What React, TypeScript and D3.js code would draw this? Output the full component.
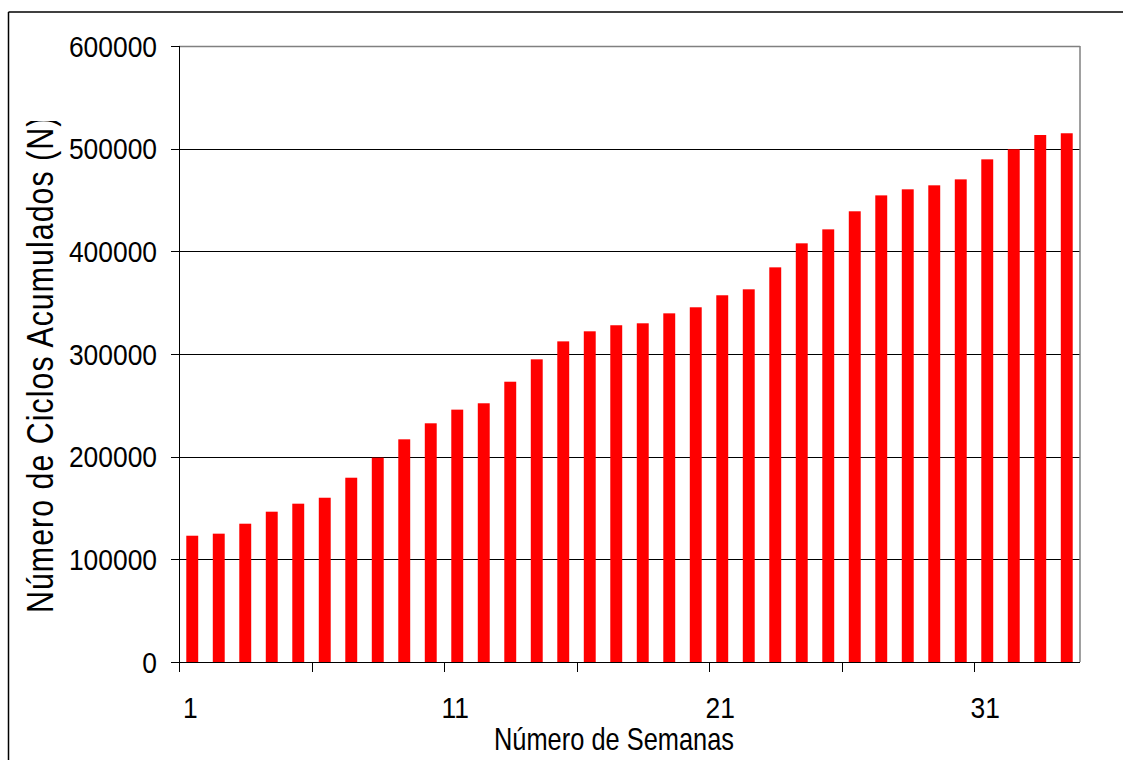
import React from "react";
import * as d3 from "d3";

const weeks = ["1","2","3","4","5","6","7","8","9","10","11","12","13","14","15","16","17","18","19","20","21","22","23","24","25","26","27","28","29","30","31","32","33","34"];
const cycles = [123000,125000,134700,146400,154200,160000,179500,199000,216900,232500,245800,252000,273000,294800,312300,322100,328000,329900,339600,345500,357200,363000,384400,407800,421400,439000,454500,460400,464300,470100,489600,499400,513300,515000];
const yTicks = [0,100000,200000,300000,400000,500000,600000];
const xLabelWeeks = ["1","11","21","31"];
const xTickBoundaries = [0,5,10,15,20,25,30];
const yTitle = "Número de Ciclos Acumulados (N)";
const xTitle = "Número de Semanas";

const FONT = "'Liberation Sans', Arial, sans-serif";

export default function App() {
  const left = 179, right = 1080, top = 46, bottom = 662;
  const x = d3.scaleBand<string>().domain(weeks).range([left, right]).paddingInner(0.55).paddingOuter(0.275);
  const xb = d3.scaleLinear().domain([0, weeks.length]).range([left, right]);
  const y = d3.scaleLinear().domain([0, 600000]).range([bottom, top]);

  return (
    <svg width={1123} height={760} style={{ position: "absolute", left: 0, top: 0, background: "#fff" }}>
      <defs>
        <clipPath id="ytclip">
          <rect x={0} y={121} width={120} height={600} />
        </clipPath>
      </defs>
      <rect x={0} y={0} width={1123} height={760} fill="#fff" />
      {/* outer chart border */}
      <line x1={8.5} y1={12} x2={1123} y2={12} stroke="#000" strokeWidth={1.5} />
      <line x1={8.5} y1={12} x2={8.5} y2={760} stroke="#000" strokeWidth={1.5} />

      {/* gridlines */}
      {yTicks.filter(t => t > 0 && t < 600000).map(t => (
        <line key={"g" + t} x1={left} x2={right} y1={Math.round(y(t)) + 0.5} y2={Math.round(y(t)) + 0.5} stroke="#000" strokeWidth={1} />
      ))}
      {/* plot border top & right */}
      <line x1={left} x2={right} y1={top + 0.5} y2={top + 0.5} stroke="#808080" strokeWidth={1.5} />
      <line x1={right} x2={right} y1={top} y2={bottom} stroke="#808080" strokeWidth={1.5} />

      {/* bars */}
      {weeks.map((w, i) => (
        <rect key={"b" + w} x={x(w)} y={y(cycles[i])} width={x.bandwidth()} height={bottom - y(cycles[i])} fill="#ff0000" />
      ))}

      {/* y axis */}
      <line x1={left + 0.5} x2={left + 0.5} y1={top} y2={bottom + 10} stroke="#000" strokeWidth={1} />
      {yTicks.map(t => (
        <g key={"yt" + t}>
          <line x1={left - 8} x2={left} y1={Math.round(y(t)) + 0.5} y2={Math.round(y(t)) + 0.5} stroke="#000" strokeWidth={1} />
          <text transform={`translate(157,${y(t) + 10.5}) scale(0.88,1)`} textAnchor="end" fontFamily={FONT} fontSize={30} fill="#000">{t}</text>
        </g>
      ))}

      {/* x axis */}
      <line x1={left} x2={right} y1={bottom + 0.5} y2={bottom + 0.5} stroke="#000" strokeWidth={1.2} />
      {xTickBoundaries.map(b => (
        <line key={"xt" + b} x1={Math.round(xb(b)) + 0.5} x2={Math.round(xb(b)) + 0.5} y1={bottom} y2={bottom + 10} stroke="#000" strokeWidth={1} />
      ))}
      {xLabelWeeks.map(w => (
        <text key={"xl" + w} transform={`translate(${(x(w) as number) + x.bandwidth() / 2 - 2},718) scale(0.88,1)`} textAnchor="middle" fontFamily={FONT} fontSize={30} fill="#000">{w}</text>
      ))}

      {/* titles */}
      <text transform="translate(614,750) scale(0.82,1)" textAnchor="middle" fontFamily={FONT} fontSize={31} fill="#000">{xTitle}</text>
      <g clipPath="url(#ytclip)">
        <text transform="translate(53,613) rotate(-90) scale(0.82,1)" textAnchor="start" fontFamily={FONT} fontSize={37} letterSpacing={1.26} fill="#000">{yTitle}</text>
      </g>
    </svg>
  );
}
